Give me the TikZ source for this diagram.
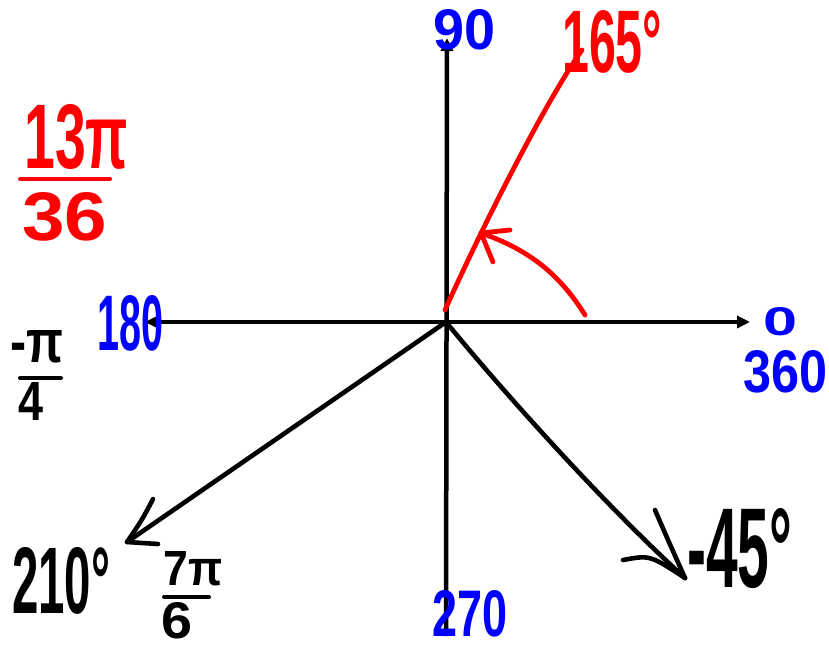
\documentclass[tikz,border=0pt]{standalone}
\usepackage{fontspec}
\setmainfont{Liberation Sans}
\usetikzlibrary{arrows.meta}
\newcommand{\hw}[3]{\resizebox{#1pt}{#2pt}{\bfseries #3}}
\begin{document}
\begin{tikzpicture}[x=1pt,y=-1pt,
  ax/.style={line width=4.5pt, black},
  rd/.style={line width=4.8pt, red, line cap=round, line join=round},
  bk/.style={line width=4.6pt, black, line cap=round, line join=round},
  lbl/.style={inner sep=0pt, anchor=north west},
  fbar/.style={line width=4pt, line cap=round}]
\useasboundingbox (0,0) rectangle (829,648);
% axes
\coordinate (O) at (446,322);
\coordinate (xr) at (750,322);
\coordinate (xl) at (145,322);
\coordinate (yt) at (447,38);
\coordinate (yb) at (446,636);
\draw[ax,{Triangle[length=13pt,width=12pt]}-{Triangle[length=13pt,width=12pt]}] (xl) -- (xr);
\draw[ax,-{Triangle[length=13pt,width=12pt]}] (yb) -- (yt);
% red terminal side (165 deg)
\coordinate (r0) at (445,310);
\coordinate (r3) at (582,50);
\draw[rd] (r0) .. controls (490,210) and (550,95) .. (r3);
% red rotation arc
\coordinate (a0) at (585,315);
\coordinate (atip) at (481,233);
\coordinate (aa1) at (510,230);
\coordinate (aa2) at (493,262);
\draw[rd] (a0) .. controls (560,275) and (530,250) .. (atip);
\draw[rd] (aa1) -- (atip) -- (aa2);
% 210 arrow
\coordinate (btip) at (127,542);
\coordinate (ba1) at (153,499);
\coordinate (ba2) at (158,544);
\draw[bk] (O) -- (btip);
\draw[bk] (ba1) .. controls (142,520) .. (btip) -- (ba2);
% -45 arrow
\coordinate (ctip) at (685,578);
\coordinate (ca1) at (655,510);
\coordinate (ca2) at (623,560);
\draw[bk] (O) .. controls (510,400) and (610,510) .. (ctip);
\draw[bk] (ca1) .. controls (668,540) .. (ctip);
\draw[bk] (ca2) .. controls (650,555) .. (ctip);
% labels blue
\node[lbl, blue] (l90) at (433,9) {\hw{62}{40}{90}};
\node[lbl, blue] (l180) at (97,295) {\hw{66}{55}{180}};
\node[lbl, blue] (l0) at (763,307) {\hw{34}{28}{0}};
\node[lbl, blue] (l360) at (743,350) {\hw{84}{42}{360}};
\node[lbl, blue] (l270) at (432,590) {\hw{75}{46}{270}};
% labels red
\node[lbl, red] (l165) at (562,10) {\hw{100}{62}{165°}};
\node[lbl, red] (lnum) at (24,104) {\hw{104}{64}{13π}};
\draw[fbar, red] (20,179) -- (110,179);
\node[lbl, red] (lden) at (22,192) {\hw{85}{48}{36}};
% labels black
\node[lbl] (lpi4) at (10,330) {\hw{53}{32}{-π}};
\draw[fbar] (20,378) -- (61,378);
\node[lbl] (l4) at (18,382) {\hw{25}{38}{4}};
\node[lbl] (l210) at (12,547) {\hw{98}{66}{210°}};
\node[lbl] (l7pi) at (163,551) {\hw{59}{34}{7π}};
\draw[fbar] (164,597) -- (209,597);
\node[lbl] (l6) at (161,602) {\hw{31}{36}{6}};
\node[lbl] (l45) at (687,508) {\hw{105}{79}{-45°}};
\end{tikzpicture}
\end{document}
